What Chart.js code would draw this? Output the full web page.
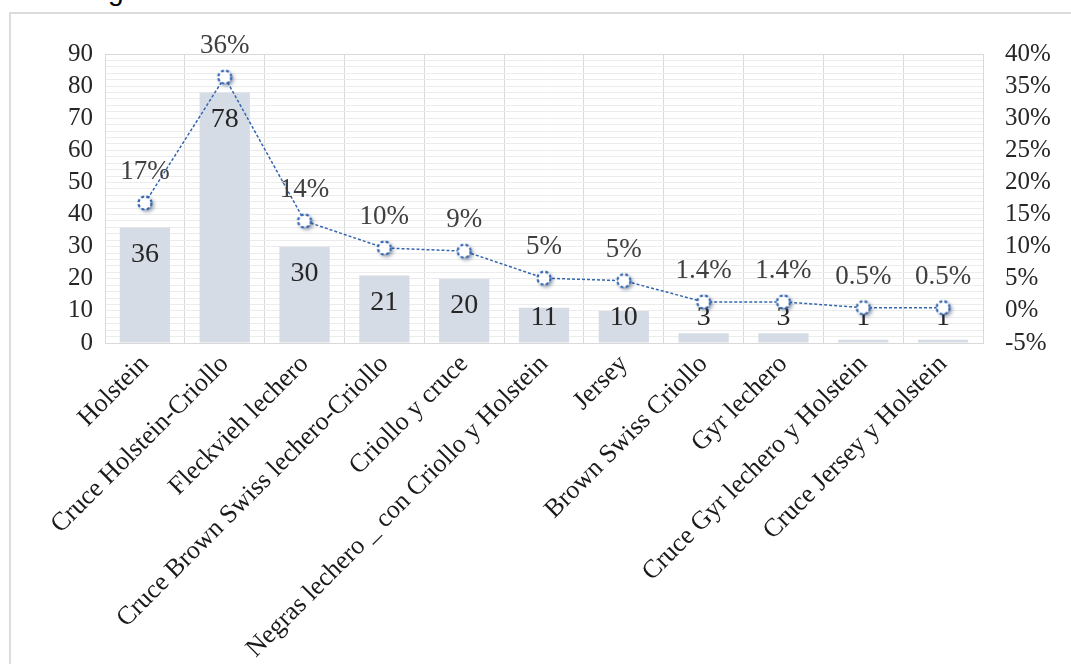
<!DOCTYPE html>
<html>
<head>
<meta charset="utf-8">
<script src="https://cdn.jsdelivr.net/npm/chart.js@4"></script>
<style>
  body { margin: 0; background: #fff; }
  #wrap { position: relative; width: 1071px; height: 664px; overflow: hidden; }
  #frame { position: absolute; left: 9px; top: 12px; width: 1080px; height: 670px; border: 2px solid #dcdcdc; box-sizing: border-box; }
  #cap { position: absolute; left: 108px; top: -25px; font: 28px 'Liberation Sans'; color: #000; }
  canvas { position: absolute; left: 0; top: 0; }
</style>
</head>
<body>
<div id="wrap">
  <div id="cap">g</div>
  <div id="frame"></div>
  <canvas id="razas" width="1071" height="664"></canvas>
</div>
<script>
const categorias = ['Holstein', 'Cruce Holstein-Criollo', 'Fleckvieh lechero', 'Cruce Brown Swiss lechero-Criollo',
  'Criollo y cruce', 'Negras lechero _ con Criollo y Holstein', 'Jersey', 'Brown Swiss Criollo',
  'Gyr lechero', 'Cruce Gyr lechero y Holstein', 'Cruce Jersey y Holstein']
const cantidad = [36, 78, 30, 21, 20, 11, 10, 3, 3, 1, 1]
const porcentaje = [16.8, 36.4, 14.0, 9.8, 9.3, 5.1, 4.7, 1.4, 1.4, 0.5, 0.5]
const etiquetas_por = ['17%', '36%', '14%', '10%', '9%', '5%', '5%', '1.4%', '1.4%', '0.5%', '0.5%']
const ticks_izq = [0, 10, 20, 30, 40, 50, 60, 70, 80, 90]
const ticks_der = [-5, 0, 5, 10, 15, 20, 25, 30, 35, 40]

const serif = 'Liberation Serif'

// marcador: circulo blanco con borde punteado y sombra
function marcador() {
  const c = document.createElement('canvas')
  c.width = 28; c.height = 28
  const g = c.getContext('2d')
  g.shadowColor = 'rgba(30,50,80,0.6)'
  g.shadowBlur = 4; g.shadowOffsetX = 2; g.shadowOffsetY = 2
  g.beginPath()
  g.arc(14, 14, 6.5, 0, Math.PI * 2)
  g.fillStyle = '#fff'
  g.fill()
  g.shadowColor = 'transparent'
  g.setLineDash([3, 2.2])
  g.lineWidth = 2.2
  g.strokeStyle = '#3466b0'
  g.stroke()
  return c
}

const etiquetas = {
  id: 'etiquetas',
  afterDatasetDraw(chart, args) {
    const ctx = chart.ctx
    const area = chart.chartArea
    ctx.save()
    ctx.textAlign = 'center'
    ctx.textBaseline = 'middle'
    if (args.index === 0) {
      ctx.font = '28px "' + serif + '"'
      ctx.fillStyle = '#262626'
      args.meta.data.forEach((bar, i) => {
        const y = Math.min(bar.y + 27, area.bottom - 25)
        ctx.fillText(cantidad[i], bar.x, y)
      })
    } else {
      ctx.font = '27px "' + serif + '"'
      ctx.fillStyle = '#404040'
      args.meta.data.forEach((pt, i) => {
        ctx.fillText(etiquetas_por[i], pt.x, pt.y - 31)
      })
    }
    ctx.restore()
  }
}

const tickFont = { family: serif, size: 25 }

new Chart(document.getElementById('razas'), {
  type: 'bar',
  data: {
    labels: categorias,
    datasets: [{
      label: 'Cantidad',
      data: cantidad,
      backgroundColor: '#d6dce5',
      barPercentage: 0.63,
      categoryPercentage: 1,
      yAxisID: 'y',
      order: 1
    }, {
      type: 'line',
      label: '%',
      data: porcentaje,
      borderColor: '#3466b0',
      borderWidth: 1.5,
      borderDash: [3, 2],
      pointStyle: marcador(),
      pointRadius: 7,
      tension: 0,
      yAxisID: 'y1',
      order: 0
    }]
  },
  options: {
    responsive: false,
    animation: false,
    layout: { padding: { top: 54, left: 0, right: 0, bottom: 0 } },
    plugins: {
      legend: { display: false },
      tooltip: { enabled: false }
    },
    scales: {
      x: {
        grid: { offset: true, color: '#d9d9d9', drawTicks: false },
        border: { color: '#d9d9d9' },
        ticks: {
          minRotation: 45, maxRotation: 45, autoSkip: false, padding: 6,
          color: '#1a1a1a', font: { family: serif, size: 26 }
        },
        afterFit(s) { s.height = 321 }
      },
      y: {
        position: 'left',
        min: 0, max: 90,
        grid: {
          drawTicks: false,
          color: (c) => c.tick && c.tick.value === 90 ? '#d9d9d9' : '#ececec'
        },
        border: { color: '#d9d9d9' },
        ticks: {
          stepSize: 2, autoSkip: false, padding: 12,
          color: '#262626', font: tickFont,
          callback: (v) => ticks_izq.includes(v) ? v : ''
        },
        afterFit(s) { s.width = 105 }
      },
      y1: {
        position: 'right',
        min: -5, max: 40,
        grid: { display: false, drawTicks: false },
        border: { color: '#d9d9d9' },
        ticks: {
          stepSize: 5, autoSkip: false, padding: 22,
          color: '#262626', font: tickFont,
          callback: (v) => ticks_der.includes(v) ? v + '%' : ''
        },
        afterFit(s) { s.width = 88 }
      }
    }
  },
  plugins: [etiquetas]
})
</script>
</body>
</html>
